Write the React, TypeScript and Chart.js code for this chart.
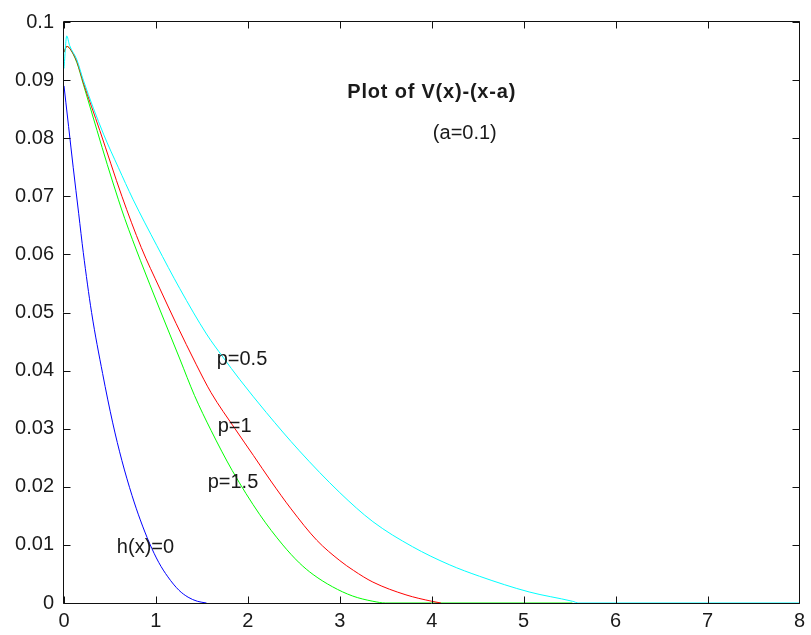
import React, { useEffect, useRef } from "react";
import { Chart, registerables } from "chart.js";

Chart.register(...registerables);

// ---- Data ----
const blueX = [0, 0.02, 0.05, 0.1, 0.16, 0.21, 0.3, 0.42, 0.53, 0.63, 0.74, 0.83, 0.93, 1.03, 1.13, 1.25, 1.35, 1.45, 1.55];
const blueY = [0.089, 0.0862, 0.082, 0.075, 0.067, 0.0603, 0.05, 0.0395, 0.031, 0.0245, 0.0185, 0.0143, 0.0103, 0.007, 0.0045, 0.0022, 0.001, 0.0003, 0];

const greenX = [0, 0.03, 0.06, 0.14, 0.21, 0.36, 0.47, 0.59, 0.66, 0.83, 1.04, 1.26, 1.42, 1.6, 1.83, 2.13, 2.38, 2.56, 2.71, 2.92, 3.14, 3.36, 3.5, 5.53];
const greenY = [0.0948, 0.0958, 0.0955, 0.093, 0.0893, 0.0813, 0.0755, 0.0695, 0.0662, 0.059, 0.0506, 0.042, 0.0357, 0.0297, 0.0228, 0.0152, 0.01, 0.0069, 0.0049, 0.0028, 0.0012, 0.0003, 0, 0];

const redX = [0, 0.03, 0.06, 0.14, 0.21, 0.39, 0.63, 0.84, 1.04, 1.22, 1.44, 1.6, 1.86, 2.06, 2.25, 2.47, 2.75, 3.0, 3.15, 3.36, 3.72, 4.0, 4.1];
const redY = [0.0948, 0.0958, 0.0955, 0.0932, 0.0896, 0.0813, 0.07, 0.0612, 0.0542, 0.0481, 0.041, 0.0362, 0.03, 0.0254, 0.021, 0.0162, 0.0108, 0.0073, 0.0056, 0.0036, 0.0014, 0.0003, 0];

const cyanX = [0, 0.03, 0.06, 0.14, 0.21, 0.43, 0.59, 0.75, 1.01, 1.26, 1.55, 1.73, 1.91, 2.2, 2.56, 3.0, 3.36, 3.79, 4.19, 4.52, 5.06, 5.53, 5.6, 8];
const cyanY = [0.092, 0.0976, 0.096, 0.0935, 0.09, 0.0807, 0.075, 0.0695, 0.0615, 0.0541, 0.0463, 0.0423, 0.0385, 0.0328, 0.0262, 0.019, 0.014, 0.0097, 0.0066, 0.0046, 0.0019, 0.0003, 0, 0];

const xTickLabels = ["0", "1", "2", "3", "4", "5", "6", "7", "8"];
const yTickLabels = ["0", "0.01", "0.02", "0.03", "0.04", "0.05", "0.06", "0.07", "0.08", "0.09", "0.1"];

const titleText = "Plot of V(x)-(x-a)";
const subtitleText = "(a=0.1)";
const curveLabels = ["p=0.5", "p=1", "p=1.5", "h(x)=0"];
const curveLabelX = [1.661, 1.672, 1.563, 0.575];
const curveLabelY = [0.0409, 0.0294, 0.0198, 0.0086];

const toPoints = (xs: number[], ys: number[]) => xs.map((x, i) => ({ x, y: ys[i] }));

const TEXT = "#1a1a1a";
const FONT = "'Liberation Sans', Arial, Helvetica, sans-serif";

const frame = {
  id: "frame",
  afterDatasetsDraw(chart: any) {
    const { ctx, chartArea: a, scales } = chart;
    const xs = scales.x, ys = scales.y;
    ctx.save();
    ctx.strokeStyle = "#111";
    ctx.lineWidth = 1;
    ctx.beginPath();
    const L = Math.round(a.left) - 0.5;
    const R = Math.round(a.right) + 0.5;
    const T = Math.round(a.top) - 0.5;
    const B = Math.round(a.bottom) + 0.5;
    ctx.rect(L, T, R - L, B - T);
    const tl = 7;
    xs.ticks.forEach((t: any) => {
      const px = Math.round(xs.getPixelForValue(t.value)) + 0.5;
      ctx.moveTo(px, B);
      ctx.lineTo(px, B - tl);
      ctx.moveTo(px, T);
      ctx.lineTo(px, T + tl);
    });
    ys.ticks.forEach((t: any) => {
      const py = Math.round(ys.getPixelForValue(t.value)) + 0.5;
      ctx.moveTo(L, py);
      ctx.lineTo(L + tl, py);
      ctx.moveTo(R, py);
      ctx.lineTo(R - tl, py);
    });
    ctx.stroke();

    ctx.fillStyle = TEXT;
    ctx.textBaseline = "alphabetic";
    ctx.textAlign = "center";
    ctx.font = `bold 20px ${FONT}`;
    try { (ctx as any).letterSpacing = "0.8px"; } catch (e) {}
    ctx.fillText(titleText, xs.getPixelForValue(4.0), ys.getPixelForValue(0.0869));
    try { (ctx as any).letterSpacing = "0px"; } catch (e) {}
    ctx.font = `20px ${FONT}`;
    ctx.fillText(subtitleText, xs.getPixelForValue(4.36), ys.getPixelForValue(0.0799));
    ctx.textAlign = "left";
    curveLabels.forEach((s, i) => {
      ctx.fillText(s, xs.getPixelForValue(curveLabelX[i]), ys.getPixelForValue(curveLabelY[i]));
    });
    ctx.restore();
  },
};

export default function App() {
  const ref = useRef<HTMLCanvasElement>(null);
  useEffect(() => {
    if (!ref.current) return;
    const ds = (label: string, xs: number[], ys: number[], color: string) => ({
      label,
      data: toPoints(xs, ys),
      borderColor: color,
      backgroundColor: color,
      borderWidth: 1,
      pointRadius: 0,
      cubicInterpolationMode: "monotone" as const,
      fill: false,
    });
    const chart = new Chart(ref.current, {
      type: "line",
      data: {
        datasets: [
          ds("p=0.5", cyanX, cyanY, "#00ffff"),
          ds("p=1", redX, redY, "#ff0000"),
          ds("p=1.5", greenX, greenY, "#00ff00"),
          ds("h(x)=0", blueX, blueY, "#0000ff"),
        ],
      },
      options: {
        responsive: false,
        animation: false,
        events: [],
        layout: { padding: { top: 21, right: 10, left: 0, bottom: 0 } },
        plugins: { legend: { display: false }, tooltip: { enabled: false }, title: { display: false } },
        scales: {
          x: {
            type: "linear",
            min: 0,
            max: 8,
            grid: { display: false, drawTicks: false },
            border: { display: false },
            afterFit: (s: any) => { s.height = 32; },
            ticks: {
              stepSize: 1,
              padding: 6,
              color: TEXT,
              font: { family: FONT, size: 20 },
              maxRotation: 0,
              callback: (_v: any, i: number) => xTickLabels[i],
            },
          },
          y: {
            type: "linear",
            min: 0,
            max: 0.1,
            grid: { display: false, drawTicks: false },
            border: { display: false },
            afterFit: (s: any) => { s.width = 64; },
            ticks: {
              stepSize: 0.01,
              padding: 10,
              color: TEXT,
              font: { family: FONT, size: 20 },
              callback: (_v: any, i: number) => yTickLabels[i],
            },
          },
        },
      },
      plugins: [frame],
    });
    return () => chart.destroy();
  }, []);
  return (
    <div style={{ position: "absolute", left: 0, top: 0, width: 811, height: 635, background: "#fff" }}>
      <canvas ref={ref} width={811} height={635} style={{ display: "block" }} />
    </div>
  );
}
